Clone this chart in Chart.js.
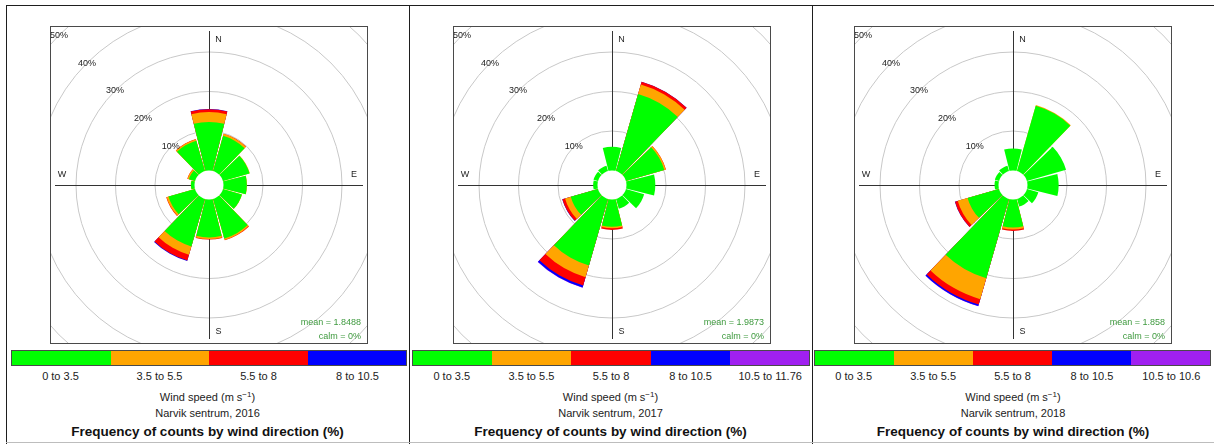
<!DOCTYPE html>
<html>
<head>
<meta charset="utf-8">
<title>Narvik sentrum wind roses</title>
<script src="https://cdn.jsdelivr.net/npm/chart.js@4.4.1/dist/chart.umd.min.js"></script>
<style>
  html, body { margin: 0; padding: 0; background: #fff; }
  body { font-family: "Liberation Sans", Arial, sans-serif; color: #222; }
  #page { position: relative; width: 1214px; height: 444px; overflow: hidden; }
  .rule { position: absolute; background: #1e1e1e; }
  .panel { position: absolute; top: 0; height: 444px; }
  .panel canvas { position: absolute; top: 26px; }
  .bar { position: absolute; top: 350px; height: 14px; display: flex; border: 1px solid #4a4a4a; }
  .bar div { flex: 1; }
  .barlabels { position: absolute; top: 368px; height: 16px; display: flex; font-size: 11px; line-height: 16px; }
  .barlabels div { flex: 1; text-align: center; white-space: nowrap; }
  .line { position: absolute; left: 0; width: 100%; text-align: center; white-space: nowrap; }
  .sub { font-size: 11px; line-height: 16px; }
  .main { font-size: 13.5px; font-weight: bold; line-height: 18px; color: #111; }
  sup { font-size: 8px; line-height: 0; vertical-align: 4px; }
</style>
</head>
<body>
<div id="page">
  <div class="rule" style="left:6px;top:5px;width:1208px;height:1px"></div>
  <div class="rule" style="left:6px;top:5px;width:1px;height:439px"></div>
  <div class="rule" style="left:409px;top:5px;width:1px;height:439px"></div>
  <div class="rule" style="left:812px;top:5px;width:1px;height:439px"></div>
  <div class="rule" style="left:6px;top:442px;width:1208px;height:1px;background:#bdbdbd"></div>
</div>
<script>
// 30-degree direction sectors, clockwise from north
const directions = ['N', 'NNE', 'ENE', 'E', 'ESE', 'SSE', 'S', 'SSW', 'WSW', 'W', 'WNW', 'NNW'];

// Frequency of counts (%) per direction sector, one array per wind-speed class
const y2016_0to3_5  = [12.3, 9.3, 7.0, 5.9, 5.0, 10.4, 9.6, 12.5, 7.0, 0.9, 1.6, 8.0];
const y2016_3_5to5_5 = [2.5, 0.5, 0.1, 0.05, 0.05, 0.4, 0.4, 2.2, 0.5, 0.05, 0.4, 0.4];
const y2016_5_5to8   = [0.7, 0.05, 0, 0, 0, 0.1, 0.15, 1.5, 0.1, 0, 0.05, 0.05];
const y2016_8to10_5  = [0.05, 0, 0, 0, 0, 0, 0, 0.15, 0, 0, 0, 0];

const y2017_0to3_5   = [6.0, 20.3, 10.1, 7.3, 4.8, 2.6, 6.9, 17.5, 7.2, 1.1, 1.2, 1.4];
const y2017_3_5to5_5 = [0, 2.5, 0.4, 0, 0, 0, 0.4, 3.1, 1.5, 0, 0, 0];
const y2017_5_5to8   = [0, 0.7, 0.05, 0, 0, 0, 0.4, 2.2, 0.7, 0, 0, 0];
const y2017_8to10_5  = [0, 0.05, 0, 0, 0, 0, 0, 0.5, 0.05, 0, 0, 0];
const y2017_10_5up   = [0, 0, 0, 0, 0, 0, 0, 0.1, 0, 0, 0, 0];

const y2018_0to3_5   = [5.6, 17.2, 10.3, 7.9, 3.0, 2.0, 7.1, 20.9, 8.3, 1.0, 1.1, 1.4];
const y2018_3_5to5_5 = [0, 0.2, 0, 0, 0, 0, 0.5, 5.5, 2.6, 0, 0, 0];
const y2018_5_5to8   = [0, 0, 0, 0, 0, 0, 0.35, 1.4, 0.7, 0, 0, 0];
const y2018_8to10_5  = [0, 0, 0, 0, 0, 0, 0, 0.4, 0.05, 0, 0, 0];
const y2018_10_5up   = [0, 0, 0, 0, 0, 0, 0, 0.05, 0, 0, 0, 0];

// Speed class labels (m/s)
const bins2016 = ['0 to 3.5', '3.5 to 5.5', '5.5 to 8', '8 to 10.5'];
const bins2017 = ['0 to 3.5', '3.5 to 5.5', '5.5 to 8', '8 to 10.5', '10.5 to 11.76'];
const bins2018 = ['0 to 3.5', '3.5 to 5.5', '5.5 to 8', '8 to 10.5', '10.5 to 10.6'];
const binColors = ['#00ff00', '#ffa500', '#ff0000', '#0000ff', '#a020f0'];

// Summary statistics
const years = [2016, 2017, 2018];
const meanSpeed = ['1.8488', '1.9873', '1.858'];
const calmPct = [0, 0, 0];

// Radial grid rings (%)
const ringTicks = [10, 20, 30, 40, 50];

// Radial geometry: 0 % sits at the edge of the centre hole, 3.95 px per percent
const PX_PER_PCT = 3.95;
const HOLE_PX = 14.5;
const PLOT = 318;
const R_MIN = -HOLE_PX / PX_PER_PCT;
const R_MAX = R_MIN + (PLOT / 2) / PX_PER_PCT;
const WEDGE = 28, GAP = 2;

const FONT = '"Liberation Sans", Arial, sans-serif';

const roseDecor = {
  id: 'roseDecor',
  beforeDatasetsDraw(chart) {
    const { ctx, chartArea: a } = chart;
    const r = chart.scales.r;
    const cx = r.xCenter, cy = r.yCenter;
    ctx.save();
    ctx.beginPath();
    ctx.rect(a.left, a.top, a.right - a.left, a.bottom - a.top);
    ctx.clip();
    ctx.strokeStyle = '#c8c8c8';
    ctx.lineWidth = 1;
    ringTicks.forEach(t => {
      ctx.beginPath();
      ctx.arc(cx, cy, r.getDistanceFromCenterForValue(t), 0, Math.PI * 2);
      ctx.stroke();
    });
    // compass cross
    const arm = 154;
    ctx.strokeStyle = '#333';
    ctx.beginPath();
    ctx.moveTo(cx + 0.5, cy - arm); ctx.lineTo(cx + 0.5, cy + arm);
    ctx.moveTo(cx - arm, cy + 0.5); ctx.lineTo(cx + arm, cy + 0.5);
    ctx.stroke();
    ctx.restore();
  },
  afterDatasetsDraw(chart, args, opts) {
    const { ctx, chartArea: a } = chart;
    const r = chart.scales.r;
    const cx = r.xCenter, cy = r.yCenter;
    ctx.save();
    ctx.beginPath();
    ctx.rect(a.left, a.top, a.right - a.left, a.bottom - a.top);
    ctx.clip();
    // centre hole
    ctx.fillStyle = '#fff';
    ctx.beginPath();
    ctx.arc(cx, cy, r.getDistanceFromCenterForValue(0), 0, Math.PI * 2);
    ctx.fill();
    // ring labels along the north-west diagonal
    ctx.fillStyle = '#222';
    ctx.font = '9px ' + FONT;
    ctx.textAlign = 'center';
    ctx.textBaseline = 'middle';
    ringTicks.forEach(t => {
      const d = r.getDistanceFromCenterForValue(t) / Math.SQRT2;
      ctx.fillText(t + '%', cx - d, cy - d);
    });
    // compass letters
    ctx.fillText('N', cx + 9.5, cy - 145);
    ctx.fillText('S', cx + 9.5, cy + 147);
    ctx.fillText('E', cx + 145, cy - 10);
    ctx.fillText('W', cx - 147, cy - 10);
    // statistics
    ctx.fillStyle = '#3f9a3f';
    ctx.textAlign = 'right';
    ctx.fillText('mean = ' + opts.mean, a.right - 7, a.bottom - 21);
    ctx.fillText('calm = ' + opts.calm + '%', a.right - 7, a.bottom - 7);
    ctx.restore();
    // plot frame
    ctx.save();
    ctx.strokeStyle = '#4a4a4a';
    ctx.lineWidth = 1;
    ctx.strokeRect(a.left + 0.5, a.top + 0.5, a.right - a.left - 1, a.bottom - a.top - 1);
    ctx.restore();
  }
};

function roseChart(canvas, classes, mean, calm) {
  // cumulative totals per class so that each wedge is drawn as overlaid layers
  let running = directions.map(() => 0);
  const datasets = classes.map((vals, k) => {
    running = running.map((v, i) => v + vals[i]);
    const layer = running.map((v, i) => (vals[i] > 0 ? v : 0));
    return {
      data: layer.flatMap(v => [v, 0]),
      backgroundColor: binColors[k],
      borderWidth: 0,
      angle: ctx => (ctx.dataIndex % 2 === 0 ? WEDGE : GAP)
    };
  });
  const labels = directions.flatMap(d => [d, '']);
  return new Chart(canvas, {
    type: 'polarArea',
    data: { labels, datasets },
    options: {
      responsive: false,
      animation: false,
      events: [],
      devicePixelRatio: 1,
      layout: { padding: 0 },
      plugins: {
        legend: { display: false },
        tooltip: { enabled: false },
        title: { display: false },
        roseDecor: { mean, calm }
      },
      scales: {
        r: {
          min: R_MIN,
          max: R_MAX,
          startAngle: -WEDGE / 2,
          ticks: { display: false },
          grid: { display: false },
          angleLines: { display: false },
          pointLabels: { display: false }
        }
      }
    },
    plugins: [roseDecor]
  });
}

const panels = [
  { left: 6, width: 403, plotLeft: 44, barLeft: 5, barWidth: 396, bins: bins2016,
    classes: [y2016_0to3_5, y2016_3_5to5_5, y2016_5_5to8, y2016_8to10_5] },
  { left: 409, width: 403, plotLeft: 44, barLeft: 3, barWidth: 398, bins: bins2017,
    classes: [y2017_0to3_5, y2017_3_5to5_5, y2017_5_5to8, y2017_8to10_5, y2017_10_5up] },
  { left: 812, width: 402, plotLeft: 42, barLeft: 2, barWidth: 397, bins: bins2018,
    classes: [y2018_0to3_5, y2018_3_5to5_5, y2018_5_5to8, y2018_8to10_5, y2018_10_5up] }
];

const page = document.getElementById('page');
panels.forEach((p, idx) => {
  const el = document.createElement('div');
  el.className = 'panel';
  el.style.left = p.left + 'px';
  el.style.width = p.width + 'px';

  const cv = document.createElement('canvas');
  cv.width = PLOT; cv.height = PLOT;
  cv.style.width = PLOT + 'px'; cv.style.height = PLOT + 'px';
  cv.style.left = p.plotLeft + 'px';
  el.appendChild(cv);

  const bar = document.createElement('div');
  bar.className = 'bar';
  bar.style.left = p.barLeft + 'px';
  bar.style.width = (p.barWidth - 2) + 'px';
  p.bins.forEach((b, k) => {
    const s = document.createElement('div');
    s.style.background = binColors[k];
    bar.appendChild(s);
  });
  el.appendChild(bar);

  const lab = document.createElement('div');
  lab.className = 'barlabels';
  lab.style.left = p.barLeft + 'px';
  lab.style.width = p.barWidth + 'px';
  p.bins.forEach(b => {
    const s = document.createElement('div');
    s.textContent = b;
    lab.appendChild(s);
  });
  el.appendChild(lab);

  const ws = document.createElement('div');
  ws.className = 'line sub';
  ws.style.top = '389px';
  ws.innerHTML = 'Wind speed (m s<sup>&minus;1</sup>)';
  el.appendChild(ws);

  const site = document.createElement('div');
  site.className = 'line sub';
  site.style.top = '405px';
  site.textContent = 'Narvik sentrum, ' + years[idx];
  el.appendChild(site);

  const ttl = document.createElement('div');
  ttl.className = 'line main';
  ttl.style.top = '423px';
  ttl.textContent = 'Frequency of counts by wind direction (%)';
  el.appendChild(ttl);

  page.appendChild(el);
  roseChart(cv, p.classes, meanSpeed[idx], calmPct[idx]);
});
</script>
</body>
</html>
